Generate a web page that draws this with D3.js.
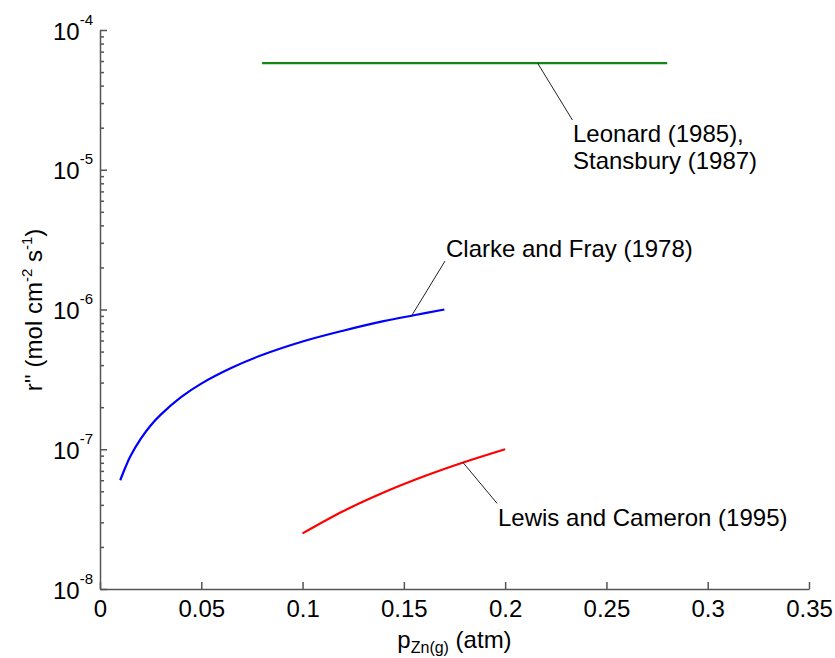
<!DOCTYPE html>
<html>
<head>
<meta charset="utf-8">
<script src="https://cdn.jsdelivr.net/npm/d3@7"></script>
<style>
  body { margin: 0; background: #fff; }
  svg { display: block; font-family: Arial, "Liberation Sans", sans-serif; }
</style>
</head>
<body>
<svg id="chart" width="835" height="658"></svg>
<script>
// ---- data ----
const xTicks = [0, 0.05, 0.1, 0.15, 0.2, 0.25, 0.3, 0.35];
const xTickLabels = ["0", "0.05", "0.1", "0.15", "0.2", "0.25", "0.3", "0.35"];
const yTickExponents = [-4, -5, -6, -7, -8];

const leonardP = [0.08, 0.28];
const leonardR = [5.8e-5, 5.8e-5];

const clarkeP = [0.01, 0.0125, 0.015, 0.02, 0.025, 0.03, 0.04, 0.05, 0.065, 0.08, 0.1, 0.12, 0.14, 0.155, 0.17];
const clarkeR = [6.0e-8, 7.4e-8, 8.9e-8, 1.18e-7, 1.48e-7, 1.77e-7, 2.36e-7, 2.95e-7, 3.83e-7, 4.72e-7, 5.9e-7, 7.05e-7, 8.25e-7, 9.1e-7, 1.0e-6];

const lewisP = [0.1, 0.12, 0.14, 0.16, 0.18, 0.2];
const lewisR = [2.5e-8, 3.6e-8, 4.9e-8, 6.4e-8, 8.1e-8, 1.0e-7];

const labelTexts = [["Leonard (1985),", "Stansbury (1987)"], ["Clarke and Fray (1978)"], ["Lewis and Cameron (1995)"]];
// leader line: from point on curve [p, r] to label anchor [p, r]
const leaderFrom = [[0.216, 5.8e-5], [0.154, 9.1e-7], [0.179, 8.1e-8]];
const leaderTo = [[0.2332, 2.27e-5], [0.1703, 2.22e-6], [0.196, 4.1e-8]];

(function () {
  const svg = d3.select("#chart");
  const mLeft = 100, mRight = 809, mTop = 30, mBottom = 589;
  const x = d3.scaleLinear().domain([0, 0.35]).range([mLeft, mRight]);
  const y = d3.scaleLog().domain([1e-8, 1e-4]).range([mBottom, mTop]);
  const axisColor = "#555";
  const fontSize = 24;
  const ff = "Arial, 'Liberation Sans', sans-serif";

  // x axis
  const gx = svg.append("g").attr("transform", `translate(0,${mBottom})`)
    .call(d3.axisBottom(x).tickValues(xTicks).tickSizeInner(-7).tickSizeOuter(0)
      .tickPadding(11).tickFormat((d, i) => xTickLabels[i]));
  gx.selectAll("text").attr("font-size", fontSize).attr("fill", "#000").attr("font-family", ff);
  gx.selectAll("line, path").attr("stroke", axisColor).attr("stroke-width", 1.5);

  // y axis minor ticks
  const minors = [];
  for (let e = -8; e < -4; e++) for (let m = 2; m <= 9; m++) minors.push(m * Math.pow(10, e));
  const gyMinor = svg.append("g").attr("transform", `translate(${mLeft},0)`)
    .call(d3.axisLeft(y).tickValues(minors).tickSizeInner(-4).tickSizeOuter(0).tickFormat(() => ""));
  gyMinor.select(".domain").remove();
  gyMinor.selectAll("line").attr("stroke", axisColor).attr("stroke-width", 1.5);

  // y axis major
  const majors = yTickExponents.map(e => Math.pow(10, e));
  const gy = svg.append("g").attr("transform", `translate(${mLeft},0)`)
    .call(d3.axisLeft(y).tickValues(majors).tickSizeInner(-7).tickSizeOuter(0).tickFormat(() => ""));
  gy.selectAll("line, path").attr("stroke", axisColor).attr("stroke-width", 1.5);
  gy.selectAll(".tick text").remove();
  gy.selectAll(".tick").each(function (d, i) {
    const t = d3.select(this).append("text")
      .attr("x", -7).attr("y", 9)
      .attr("text-anchor", "end").attr("fill", "#000")
      .attr("font-family", ff);
    t.append("tspan").attr("font-size", fontSize).text("10");
    t.append("tspan").attr("font-size", 15).attr("dy", -15).text(String(yTickExponents[i]));
  });

  // curves
  const line = d3.line().x(d => x(d[0])).y(d => y(d[1])).curve(d3.curveCatmullRom.alpha(0.5));
  const series = [
    { p: leonardP, r: leonardR, color: "#118811" },
    { p: clarkeP, r: clarkeR, color: "#0000ff" },
    { p: lewisP, r: lewisR, color: "#ff0000" }
  ];
  series.forEach(s => {
    svg.append("path").datum(s.p.map((p, i) => [p, s.r[i]]))
      .attr("d", line).attr("fill", "none").attr("stroke", s.color).attr("stroke-width", 2.2);
  });

  // leaders & labels
  leaderFrom.forEach((f, i) => {
    const t = leaderTo[i];
    svg.append("line")
      .attr("x1", x(f[0])).attr("y1", y(f[1]))
      .attr("x2", x(t[0])).attr("y2", y(t[1]))
      .attr("stroke", "#222").attr("stroke-width", 1);
  });
  const labelPos = [[573, 142], [446, 257], [498, 526]];
  labelTexts.forEach((lines, i) => {
    const txt = svg.append("text").attr("x", labelPos[i][0]).attr("y", labelPos[i][1])
      .attr("font-size", fontSize).attr("fill", "#000");
    lines.forEach((l, j) => txt.append("tspan").attr("x", labelPos[i][0]).attr("dy", j === 0 ? 0 : 27).text(l));
  });

  // x label
  const xl = svg.append("text").attr("x", (mLeft + mRight) / 2).attr("y", 648)
    .attr("text-anchor", "middle").attr("font-size", fontSize).attr("fill", "#000");
  xl.append("tspan").text("p");
  xl.append("tspan").attr("font-size", 16).attr("dy", 5).text("Zn(g)");
  xl.append("tspan").attr("dy", -5).text(" (atm)");

  // y label
  const yl = svg.append("text").attr("transform", "translate(42,310) rotate(-90)")
    .attr("text-anchor", "middle").attr("font-size", fontSize).attr("fill", "#000");
  yl.append("tspan").text("r'' (mol cm");
  yl.append("tspan").attr("font-size", 15).attr("dy", -10).text("-2");
  yl.append("tspan").attr("dy", 10).text(" s");
  yl.append("tspan").attr("font-size", 15).attr("dy", -10).text("-1");
  yl.append("tspan").attr("dy", 10).text(")");
})();
</script>
</body>
</html>
